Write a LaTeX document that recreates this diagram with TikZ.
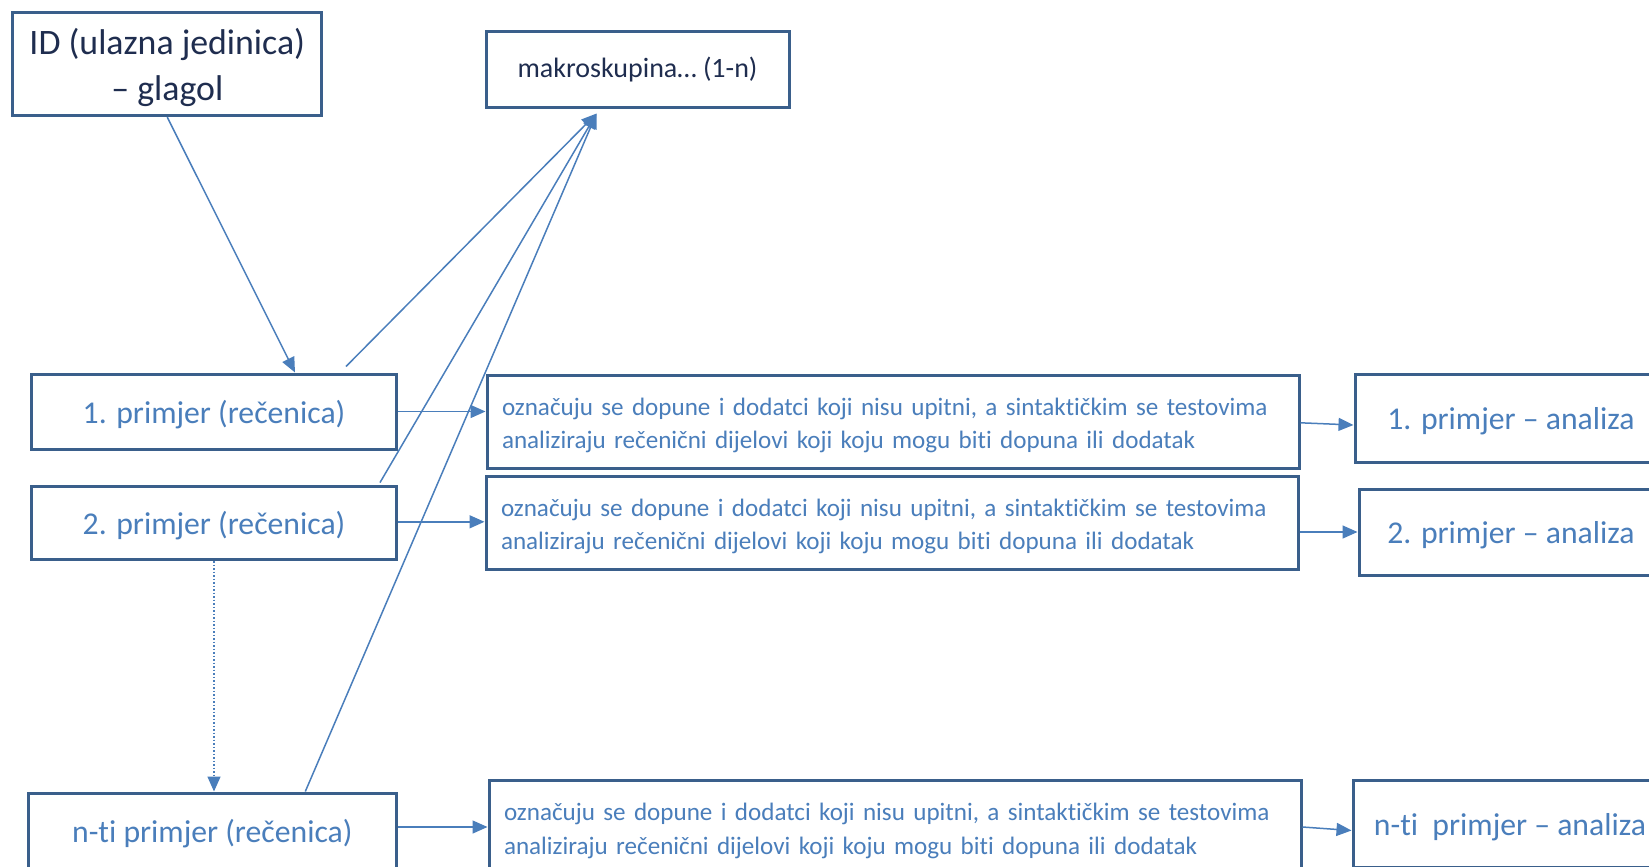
\documentclass[tikz,border=0pt]{standalone}
\usepackage{fontspec}
\setmainfont{Carlito}[Ligatures=NoCommon]
\usetikzlibrary{arrows.meta,calc}
\definecolor{boxc}{HTML}{3A5F8B}
\definecolor{linec}{HTML}{4A7EBB}
\definecolor{txtb}{HTML}{4A7EBB}
\definecolor{txtd}{HTML}{1F2D4F}
\tikzset{
  bx/.style={draw=boxc, line width=3pt, fill=white, inner sep=0pt, rectangle},
  bigtxt/.style={font=\fontsize{31.7}{36}\selectfont, text=txtb, text height=31pt, text depth=8pt},
  midtxt/.style={font=\fontsize{25.1}{33.6}\selectfont, text=txtb, align=left, text width=782pt},
  conn/.style={draw=linec, line width=1.5pt, -{Triangle[length=15pt,width=13pt]}},
}
\newcommand{\upstrut}[1]{\rule{0pt}{#1}}
\begin{document}
\begin{tikzpicture}[x=1pt,y=-1pt]
\useasboundingbox (0,0) rectangle (1649,867);
\clip (0,0) rectangle (1649,867);
% nodes
\node[bx, minimum width=309pt, minimum height=103pt, align=center, font=\fontsize{35.8}{46}\selectfont, text=txtd] (id) at (167.3,64.2) {\upstrut{32pt}ID (ulazna jedinica)\\– glagol};
\node[bx, minimum width=303pt, minimum height=75.5pt, font=\fontsize{28}{32}\selectfont, text=txtd] (makro) at (637.5,69.3) {makroskupina… (1-n)};
\node[bx, bigtxt, minimum width=365pt, minimum height=75pt] (p1) at (214,411.5) {1. primjer (rečenica)};
\node[bx, bigtxt, minimum width=365pt, minimum height=73.5pt] (p2) at (214,522.8) {2. primjer (rečenica)};
\node[bx, bigtxt, minimum width=368.5pt, minimum height=76pt] (pn) at (212.3,831) {n-ti primjer (rečenica)};
\node[bx, midtxt, minimum width=812pt, minimum height=92.5pt, inner xsep=15pt] (m1) at (893,421.8) {\upstrut{25pt}označuju se dopune i dodatci koji nisu upitni, a sintaktičkim se testovima\\analiziraju rečenični dijelovi koji koju mogu biti dopuna ili dodatak};
\node[bx, midtxt, minimum width=812pt, minimum height=93pt, inner xsep=15pt] (m2) at (892,522.5) {\upstrut{25pt}označuju se dopune i dodatci koji nisu upitni, a sintaktičkim se testovima\\analiziraju rečenični dijelovi koji koju mogu biti dopuna ili dodatak};
\node[bx, midtxt, minimum width=812pt, minimum height=94pt, inner xsep=15pt] (m3) at (895,827) {\upstrut{25pt}označuju se dopune i dodatci koji nisu upitni, a sintaktičkim se testovima\\analiziraju rečenični dijelovi koji koju mogu biti dopuna ili dodatak};
\node[bx, bigtxt, minimum width=312pt, minimum height=88pt] (r1) at (1511,418) {1. primjer – analiza};
\node[bx, bigtxt, minimum width=304pt, minimum height=86pt] (r2) at (1511,532) {2. primjer – analiza};
\node[bx, bigtxt, minimum width=314pt, minimum height=87pt] (r3) at (1510,823.5) {n-ti\ \ primjer – analiza};
% connectors
\draw[conn] (id.south) -- ([xshift=81pt]p1.north);
\draw[conn] ([xshift=132pt,yshift=6pt]p1.north) -- ([xshift=-41pt,yshift=-5pt]makro.south);
\draw[conn] ([xshift=166pt,yshift=2pt]p2.north) -- ([xshift=-41pt,yshift=-5pt]makro.south);
\draw[conn] ([xshift=93pt]pn.north) -- ([xshift=-41pt,yshift=-5pt]makro.south);
\draw[conn, dotted] (p2.south) -- (p2.south |- pn.north);
\draw[conn] (p1.east) -- (p1.east -| m1.west);
\draw[conn] ([yshift=1pt]p2.east) -- ([yshift=1pt]p2.east -| m2.west);
\draw[conn] ([yshift=4pt]pn.east) -- ([yshift=4pt]pn.east -| m3.west);
\draw[conn] ([yshift=-1pt]m1.east) -- ([yshift=-7pt]r1.west);
\draw[conn] ([yshift=-9.5pt]m2.east) -- ([yshift=0pt]r2.west);
\draw[conn] (m3.east) -- ([yshift=-7pt]r3.west);
\end{tikzpicture}
\end{document}
